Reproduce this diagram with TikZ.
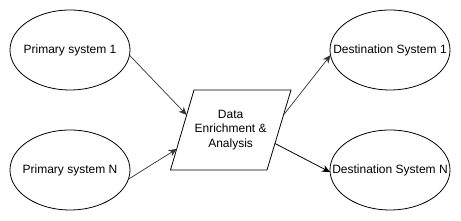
\documentclass[tikz,border=0pt]{standalone}
\usepackage{fontspec}
\setmainfont{Liberation Sans}
\usetikzlibrary{arrows.meta,shapes.geometric}
\newcommand{\ztext}[1]{\makebox[0pt]{#1}}
\begin{document}
\begin{tikzpicture}[x=1pt,y=-1pt,
  sys/.style={draw=black,line width=0.8pt,ellipse,minimum width=120pt,minimum height=80pt,inner sep=0pt,outer sep=0pt,font=\fontsize{12}{14.4}\selectfont},
  conn/.style={draw=black!80,line width=0.7pt,-{Stealth[length=8pt,width=7pt,inset=2.5pt]}},
  lbl/.style={align=center,inner sep=0pt,font=\fontsize{12}{14.4}\selectfont}]
\useasboundingbox (0,0) rectangle (461,221);
\node[sys] (p1) at (70,50) {\ztext{Primary system 1}};
\node[sys] (p2) at (70,170) {\ztext{Primary system N}};
\node[sys] (d1) at (390,50) {\ztext{Destination System 1}};
\node[sys] (d2) at (390,170) {\ztext{Destination System N}};
\coordinate (tl) at (194,90);
\coordinate (tr) at (291,90);
\coordinate (br) at (267,170);
\coordinate (bl) at (170.5,170);
\draw[line width=0.8pt] (bl) -- (tl) -- (tr) -- (br) -- cycle;
\node[lbl] (proc) at (230.6,130) {Data\\Enrichment \&\\Analysis};
\coordinate (in1) at (186.7,115);
\coordinate (in2) at (176.7,149);
\coordinate (out1) at (283.5,115);
\coordinate (out2) at (275,143.5);
\draw[conn] (p1.-5) -- (in1);
\draw[conn] (p2.-9) -- (in2);
\draw[conn] (out1) -- (d1.185);
\draw[conn,draw=black,line width=0.8pt] (out2) -- (d2.182);
\end{tikzpicture}
\end{document}
